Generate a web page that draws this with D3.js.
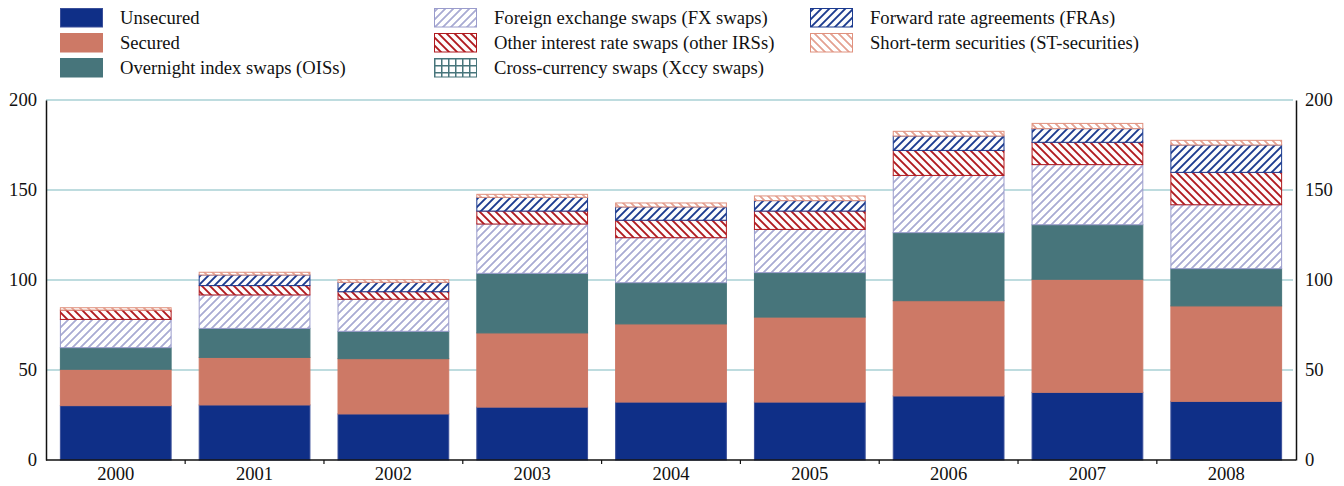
<!DOCTYPE html>
<html>
<head>
<meta charset="utf-8">
<script src="https://cdn.jsdelivr.net/npm/d3@7"></script>
<style>
  body { margin: 0; background: #fff; }
  svg { display: block; }
  text { font-family: "Liberation Serif", "Times New Roman", serif; fill: #111; }
</style>
</head>
<body>
<svg id="chart" width="1344" height="486"></svg>
<script>
const years = ["2000","2001","2002","2003","2004","2005","2006","2007","2008"];
const seriesNames = [
  "Unsecured", "Secured", "Overnight index swaps (OISs)",
  "Foreign exchange swaps (FX swaps)", "Cross-currency swaps (Xccy swaps)",
  "Other interest rate swaps (other IRSs)", "Forward rate agreements (FRAs)",
  "Short-term securities (ST-securities)"
];
const unsecured = [30.2, 30.6, 25.6, 29.4, 32.2, 32.2, 35.6, 37.6, 32.6];
const secured   = [20.2, 26.4, 30.7, 41.2, 43.4, 47.2, 52.9, 62.8, 53.0];
const ois       = [12.0, 16.1, 15.2, 33.1, 22.9, 24.7, 37.8, 30.3, 20.7];
const fxSwaps   = [15.7, 18.6, 17.8, 27.4, 25.0, 24.0, 31.8, 33.4, 35.5];
const xccySwaps = [0, 0, 0, 0, 0, 0, 0, 0, 0];
const otherIRS  = [5.2, 5.2, 4.2, 7.2, 9.7, 10.2, 13.9, 12.4, 18.0];
const fras      = [0, 5.9, 5.2, 7.6, 7.4, 5.8, 8.0, 7.6, 15.2];
const stSec     = [1.3, 1.5, 1.5, 1.7, 2.2, 2.6, 2.6, 2.9, 2.6];
const yTicks = [0, 50, 100, 150, 200];

const seriesValues = [unsecured, secured, ois, fxSwaps, xccySwaps, otherIRS, fras, stSec];
const keys = ["u","s","ois","fx","xccy","irs","fra","st"];

const styles = {
  u:   {fill: "#0f2f87", stroke: "#3a4f99"},
  s:   {fill: "#cd7966", stroke: "#cd7966"},
  ois: {fill: "#47757b", stroke: "#47757b"},
  fx:  {pattern: "fx", color: "#9a9ccc", dir: "/", w: 1.6},
  xccy:{pattern: "xccy", color: "#47757b", dir: "#", w: 1.5},
  irs: {pattern: "irs", color: "#b0191e", dir: "\\", w: 2},
  fra: {pattern: "fra", color: "#1b3a8f", dir: "/", w: 2},
  st:  {pattern: "st", color: "#e0917e", dir: "\\", w: 1.6}
};

const table = years.map((yr, i) => {
  const row = {year: yr};
  keys.forEach((k, j) => row[k] = seriesValues[j][i]);
  return row;
});

const svg = d3.select("#chart");
const mLeft = 46, mRight = 1296, mTop = 100, mBottom = 460;
const FS = 18.6;

const x = d3.scaleBand().domain(years).range([mLeft, mRight]).paddingInner(0.195).paddingOuter(0.1);
const y = d3.scaleLinear().domain([0, 200]).range([mBottom, mTop]);

// patterns
const defs = svg.append("defs");
const sp = 8 / Math.SQRT2;
keys.forEach(k => {
  const st = styles[k];
  if (!st.pattern) return;
  if (st.dir === "#") {
    const p = defs.append("pattern").attr("id", "pat-" + k)
      .attr("patternUnits", "userSpaceOnUse").attr("width", 7).attr("height", 7);
    p.append("rect").attr("width", 7).attr("height", 7).attr("fill", "#fff");
    p.append("line").attr("x1", 0).attr("y1", 0).attr("x2", 0).attr("y2", 7)
      .attr("stroke", st.color).attr("stroke-width", st.w * 2);
    p.append("line").attr("x1", 0).attr("y1", 0).attr("x2", 7).attr("y2", 0)
      .attr("stroke", st.color).attr("stroke-width", st.w * 2);
    return;
  }
  const p = defs.append("pattern").attr("id", "pat-" + k)
    .attr("patternUnits", "userSpaceOnUse").attr("width", sp).attr("height", sp)
    .attr("patternTransform", `rotate(${st.dir === "/" ? 45 : -45})`);
  p.append("rect").attr("width", sp).attr("height", sp).attr("fill", "#fff");
  p.append("line").attr("x1", sp / 2).attr("y1", 0).attr("x2", sp / 2).attr("y2", sp)
    .attr("stroke", st.color).attr("stroke-width", st.w);
});

function fillOf(k) { return styles[k].pattern ? `url(#pat-${k})` : styles[k].fill; }
function strokeOf(k) { return styles[k].pattern ? styles[k].color : styles[k].stroke; }

// gridlines
svg.append("g").selectAll("line").data(yTicks.filter(t => t > 0)).join("line")
  .attr("x1", mLeft).attr("x2", mRight - 3)
  .attr("y1", d => y(d)).attr("y2", d => y(d))
  .attr("stroke", "#a9d0d4").attr("stroke-width", 1.3);

// stacked bars
const stack = d3.stack().keys(keys)(table);
const g = svg.append("g");
stack.forEach(layer => {
  const k = layer.key;
  g.append("g").selectAll("rect").data(layer.filter(d => d[1] - d[0] > 0)).join("rect")
    .attr("x", d => x(d.data.year) + 0.5)
    .attr("width", x.bandwidth() - 1)
    .attr("y", d => y(d[1]))
    .attr("height", d => y(d[0]) - y(d[1]))
    .attr("fill", fillOf(k))
    .attr("stroke", strokeOf(k))
    .attr("stroke-width", 1);
});

// axes
const yL = d3.axisLeft(y).tickValues(yTicks).tickSize(0).tickPadding(9);
const gl = svg.append("g").attr("transform", `translate(${mLeft},0)`).call(yL);
const yR = d3.axisRight(y).tickValues(yTicks).tickSize(0).tickPadding(9);
const gr = svg.append("g").attr("transform", `translate(${mRight},0)`).call(yR);
[gl, gr].forEach(a => {
  a.attr("font-family", null).attr("font-size", null);
  a.select(".domain").attr("stroke", "#111").attr("stroke-width", 1.5);
  a.selectAll("text").style("font-size", FS + "px").style("font-family", '"Liberation Serif", serif').attr("fill", "#111");
});

// x axis baseline with ticks at band boundaries
const xa = svg.append("g");
xa.append("line").attr("x1", mLeft).attr("x2", mRight).attr("y1", mBottom).attr("y2", mBottom)
  .attr("stroke", "#111").attr("stroke-width", 1.5);
const bounds = years.slice(1).map(yr => x(yr) - x.step() * x.paddingInner() / 2);
xa.selectAll("line.tk").data(bounds).join("line").attr("class", "tk")
  .attr("x1", d => d).attr("x2", d => d).attr("y1", mBottom).attr("y2", mBottom + 4)
  .attr("stroke", "#111").attr("stroke-width", 1.2);
xa.selectAll("text").data(years).join("text")
  .attr("x", d => x(d) + x.bandwidth() / 2).attr("y", 480)
  .attr("text-anchor", "middle").style("font-size", FS + "px").text(d => d);

// legend
const legendOrder = ["u","s","ois","fx","irs","xccy","fra","st"];
const colX = [60, 434, 810];
const rowY = [8, 33, 58];
const lg = svg.append("g");
legendOrder.forEach((k, i) => {
  const col = Math.floor(i / 3), row = i % 3;
  const name = seriesNames[keys.indexOf(k)];
  const item = lg.append("g").attr("transform", `translate(${colX[col]},${rowY[row]})`);
  item.append("rect").attr("x", 0.5).attr("y", 0.5).attr("width", 42).attr("height", 18.5)
    .attr("fill", fillOf(k)).attr("stroke", strokeOf(k)).attr("stroke-width", 1);
  item.append("text").attr("x", 60).attr("y", 16).style("font-size", FS + "px").text(name);
});
</script>
</body>
</html>
